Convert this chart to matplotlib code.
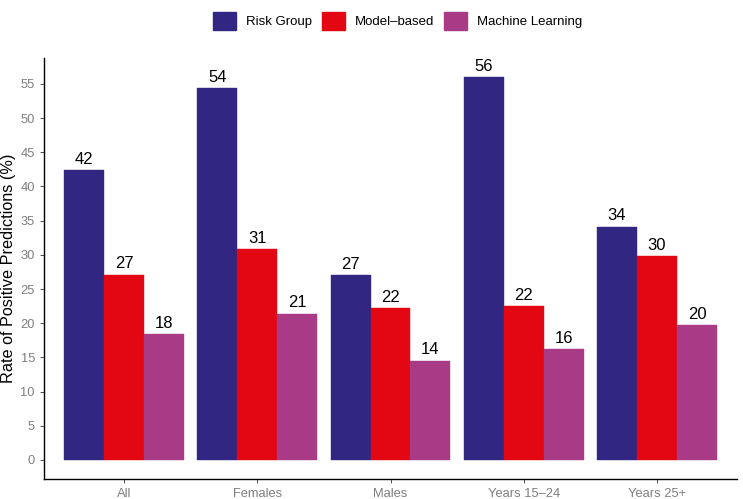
import numpy as np
import matplotlib.pyplot as plt
from matplotlib.patches import Patch

plt.rcParams['font.family'] = ['Liberation Sans', 'DejaVu Sans']

groups = ["All", "Females", "Males", "Years 15\u201324", "Years 25+"]
series = ["Risk Group", "Model\u2013based", "Machine Learning"]
risk_group = [42.4, 54.4, 27.0, 56.0, 34.1]
model_based = [27.1, 30.8, 22.2, 22.5, 29.8]
machine_learning = [18.4, 21.4, 14.5, 16.2, 19.7]
colors = ["#312783", "#E30613", "#A93A86"]

values = [risk_group, model_based, machine_learning]

fig = plt.figure(figsize=(7.43, 4.99), dpi=100)
ax = fig.add_axes([44 / 743, 20 / 499, 693 / 743, 421 / 499])

x = np.arange(len(groups))
w = 0.3
for i, (vals, col) in enumerate(zip(values, colors)):
    pos = x + (i - 1) * w
    ax.bar(pos, vals, width=w, color=col, edgecolor=col, linewidth=0.3)
    for p, v in zip(pos, vals):
        ax.annotate(f"{v:.0f}", (p, v), xytext=(0, 2.5), textcoords="offset points",
                    ha="center", va="bottom", fontsize=12, color="black")

ax.set_xlim(-0.6, len(groups) - 0.4)
ax.set_ylim(-2.8, 58.8)
ax.set_yticks(np.arange(0, 56, 5))
ax.set_xticks(x)
ax.set_xticklabels(groups)
ax.tick_params(axis="both", colors="#333333", labelcolor="#7F7F7F", labelsize=9.3,
               length=3, width=0.6)
ax.set_ylabel("Rate of Positive Predictions (%)", fontsize=11.7, labelpad=3)

for s in ["top", "right"]:
    ax.spines[s].set_visible(False)
for s in ["left", "bottom"]:
    ax.spines[s].set_linewidth(1.0)

handles = [Patch(facecolor=c, edgecolor=c) for c in colors]
fig.legend(handles, series, loc="upper center", bbox_to_anchor=(397.5 / 743, 1.0), ncol=3,
           frameon=False, fontsize=9.5, handlelength=1.75, handleheight=1.75,
           columnspacing=0.75, handletextpad=0.73)

fig.savefig("out.png", dpi=100)
